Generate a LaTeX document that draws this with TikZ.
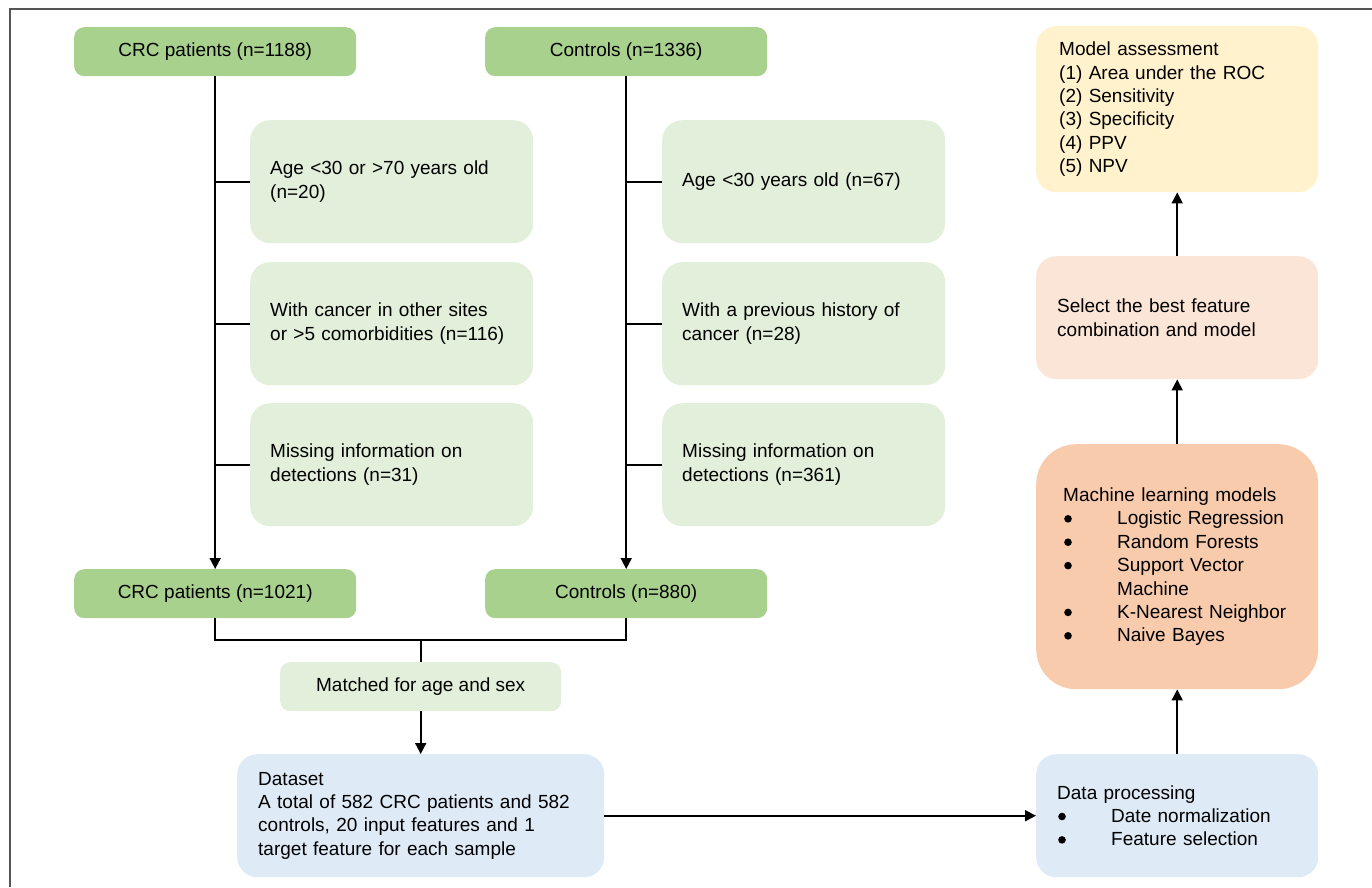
\documentclass[tikz,border=0pt]{standalone}
\usepackage{fontspec}
\setmainfont{Liberation Sans}
\usetikzlibrary{arrows.meta,calc}
\definecolor{hdr}{HTML}{A9D18E}
\definecolor{lgreen}{HTML}{E2EFDA}
\definecolor{lyellow}{HTML}{FFF2CC}
\definecolor{lpeach}{HTML}{FBE5D6}
\definecolor{peach}{HTML}{F8CBAD}
\definecolor{lblue}{HTML}{DEEBF7}
\definecolor{framecol}{HTML}{555555}
\newcommand{\bul}[1]{\makebox[54pt][l]{\hspace*{1pt}\tikz[baseline=0pt]\fill (3.8pt,6pt) circle (3.8pt);}#1}
\begin{document}
\begin{tikzpicture}[x=1pt,y=-1pt,
  every node/.style={font=\fontsize{19}{23.4}\selectfont, text=black},
  hdrbox/.style={fill=hdr, rounded corners=10pt, minimum width=282pt, minimum height=49pt, anchor=north west, inner sep=0pt},
  exbox/.style={fill=lgreen, rounded corners=20pt, minimum height=123pt, anchor=north west, text width=243pt, inner xsep=20pt, inner ysep=0pt, align=left},
  matchbox/.style={fill=lgreen, rounded corners=10pt, minimum width=281pt, minimum height=49pt, anchor=north west, inner sep=0pt},
  rbox/.style={rounded corners=20pt, anchor=north west, inner ysep=0pt, align=left},
  conn/.style={line width=1.7pt},
  arr/.style={conn, -{Triangle[length=11pt,width=11pt]}}
]
\useasboundingbox (0,0) rectangle (1372,887);
% outer frame
\draw[framecol, line width=2pt] (10,887) -- (10,9) -- (1372,9);

% left / middle columns
\node[hdrbox] (crc1) at (74,27) {CRC patients (n=1188)};
\node[hdrbox] (ctl1) at (485,27) {Controls (n=1336)};
\node[exbox] (e1) at (250,120) {Age <30 or >70 years old\\(n=20)};
\node[exbox] (e2) at (250,262) {With cancer in other sites\\or >5 comorbidities (n=116)};
\node[exbox] (e3) at (250,403) {Missing information on\\detections (n=31)};
\node[exbox] (f1) at (662,120) {Age <30 years old (n=67)};
\node[exbox] (f2) at (662,262) {With a previous history of\\cancer (n=28)};
\node[exbox] (f3) at (662,403) {Missing information on\\detections (n=361)};
\node[hdrbox] (crc2) at (74,569) {CRC patients (n=1021)};
\node[hdrbox] (ctl2) at (485,569) {Controls (n=880)};
\node[matchbox] (match) at (280,662) {Matched for age and sex};
\node[rbox, fill=lblue, text width=325pt, inner xsep=21pt, minimum height=123pt] (data) at (237,754)
  {Dataset\\A total of 582 CRC patients and 582\\controls, 20 input features and 1\\target feature for each sample};

% right column
\node[rbox, fill=lyellow, text width=236pt, inner xsep=23pt, minimum height=166pt] (ma) at (1036,26)
  {Model assessment\\(1) Area under the ROC\\(2) Sensitivity\\(3) Specificity\\(4) PPV\\(5) NPV};
\node[rbox, fill=lpeach, text width=240pt, inner xsep=21pt, minimum height=123pt] (sel) at (1036,256)
  {Select the best feature\\combination and model};
\node[rbox, fill=peach, rounded corners=40pt, text width=228pt, inner xsep=27pt, minimum height=245pt] (ml) at (1036,444)
  {Machine learning models\\\bul{Logistic Regression}\\\bul{Random Forests}\\\bul{Support Vector}\\\hspace*{54pt}Machine\\\bul{K-Nearest Neighbor}\\\bul{Naive Bayes}};
\node[rbox, fill=lblue, text width=240pt, inner xsep=21pt, minimum height=123pt] (proc) at (1036,754)
  {Data processing\\\bul{Date normalization}\\\bul{Feature selection}};

% connectors
\draw[arr] (crc1) -- (crc2);
\draw[arr] (ctl1) -- (ctl2);
\foreach \b in {e1,e2,e3} \draw[conn] (\b.west) -- (crc1.south |- \b.west);
\foreach \b in {f1,f2,f3} \draw[conn] (\b.west) -- (ctl1.south |- \b.west);
\coordinate (jm) at (match.north |- 0,640);
\draw[conn] (crc2.south) |- (jm) -| (ctl2.south);
\draw[conn] (jm) -- (match.north);
\draw[arr] (match) -- (data);
\draw[arr] (data.east) -- (proc.west);
\draw[arr] (proc) -- (ml);
\draw[arr] (ml) -- (sel);
\draw[arr] (sel) -- (ma);
\end{tikzpicture}
\end{document}
